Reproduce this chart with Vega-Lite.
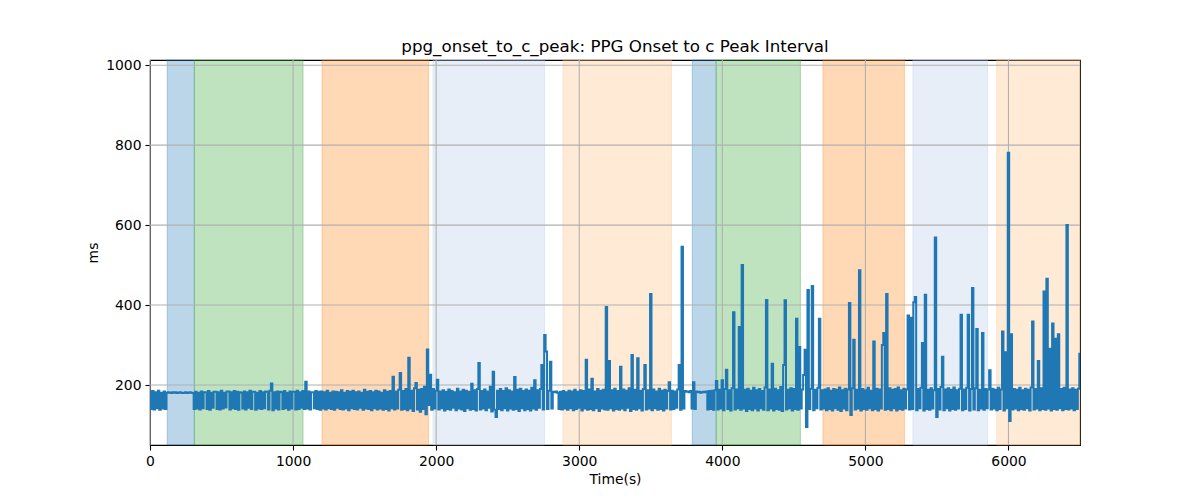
{
  "$schema": "https://vega.github.io/schema/vega-lite/v6.json",
  "width": 930,
  "height": 385,
  "autosize": {"type": "none"},
  "padding": {"left": 150, "top": 60, "right": 120, "bottom": 55},
  "background": "white",
  "title": {
    "text": "ppg_onset_to_c_peak: PPG Onset to c Peak Interval",
    "font": "DejaVu Sans",
    "fontSize": 16.7,
    "fontWeight": "normal",
    "color": "black",
    "anchor": "middle",
    "baseline": "alphabetic",
    "offset": 8,
    "dy": 19
  },
  "datasets": {
    "bands": [
      {"t": 120, "t2": 310, "kind": "s1"},
      {"t": 310, "t2": 1070, "kind": "s2"},
      {"t": 1202, "t2": 1947, "kind": "s3"},
      {"t": 1978, "t2": 2758, "kind": "s4"},
      {"t": 2886, "t2": 3645, "kind": "s5"},
      {"t": 3790, "t2": 3957, "kind": "s1"},
      {"t": 3957, "t2": 4546, "kind": "s2"},
      {"t": 4703, "t2": 5273, "kind": "s3"},
      {"t": 5332, "t2": 5854, "kind": "s4"},
      {"t": 5918, "t2": 6500, "kind": "s5"}
    ],
    "xgrid": [{"t": 0}, {"t": 1000}, {"t": 2000}, {"t": 3000}, {"t": 4000}, {"t": 5000}, {"t": 6000}],
    "ygrid": [{"v": 200}, {"v": 400}, {"v": 600}, {"v": 800}, {"v": 1000}],
    "ppg": [
      {"t":0,"v":183},{"t":10,"v":140},{"t":20,"v":185},{"t":30,"v":139},{"t":40,"v":182},{"t":50,"v":142},{"t":60,"v":186},{"t":70,"v":138},{"t":80,"v":181},{"t":90,"v":141},{"t":100,"v":184},{"t":110,"v":140},
      {"t":120,"v":181},{"t":130,"v":182},{"t":140,"v":181},{"t":150,"v":180},{"t":160,"v":182},{"t":170,"v":181},{"t":180,"v":182},{"t":190,"v":180},{"t":200,"v":181},{"t":210,"v":182},{"t":220,"v":181},{"t":230,"v":180},{"t":240,"v":181},{"t":250,"v":182},{"t":260,"v":180},{"t":270,"v":181},{"t":280,"v":182},{"t":290,"v":181},{"t":300,"v":180},
      {"t":310,"v":140},{"t":320,"v":183},{"t":330,"v":141},{"t":340,"v":181},{"t":350,"v":139},{"t":360,"v":184},{"t":370,"v":142},{"t":380,"v":182},{"t":390,"v":182},{"t":400,"v":140},
      {"t":410,"v":185},{"t":420,"v":138},{"t":430,"v":181},{"t":440,"v":143},{"t":450,"v":183},{"t":460,"v":183},{"t":470,"v":140},{"t":480,"v":182},{"t":490,"v":139},{"t":500,"v":186},
      {"t":510,"v":141},{"t":520,"v":181},{"t":530,"v":144},{"t":540,"v":184},{"t":550,"v":184},{"t":560,"v":139},{"t":570,"v":182},{"t":580,"v":142},{"t":590,"v":185},{"t":600,"v":140},
      {"t":610,"v":183},{"t":620,"v":138},{"t":630,"v":182},{"t":640,"v":181},{"t":650,"v":141},{"t":660,"v":184},{"t":670,"v":139},{"t":680,"v":182},{"t":690,"v":143},{"t":700,"v":186},
      {"t":710,"v":140},{"t":720,"v":183},{"t":730,"v":183},{"t":740,"v":138},{"t":750,"v":181},{"t":760,"v":141},{"t":770,"v":185},{"t":780,"v":140},{"t":790,"v":182},{"t":800,"v":142},
      {"t":810,"v":184},{"t":820,"v":183},{"t":830,"v":139},{"t":840,"v":186},{"t":850,"v":204},{"t":860,"v":137},{"t":870,"v":182},{"t":880,"v":141},{"t":890,"v":184},{"t":900,"v":139},
      {"t":910,"v":183},{"t":920,"v":182},{"t":930,"v":140},{"t":940,"v":185},{"t":950,"v":142},{"t":960,"v":181},{"t":970,"v":138},{"t":980,"v":184},{"t":990,"v":141},{"t":1000,"v":183},
      {"t":1010,"v":183},{"t":1020,"v":139},{"t":1030,"v":186},{"t":1040,"v":140},{"t":1050,"v":182},{"t":1060,"v":143},{"t":1070,"v":185},{"t":1080,"v":140},{"t":1090,"v":208},{"t":1100,"v":141},
      {"t":1110,"v":184},{"t":1120,"v":139},{"t":1130,"v":182},{"t":1140,"v":182},{"t":1150,"v":142},{"t":1160,"v":185},{"t":1170,"v":140},{"t":1180,"v":183},{"t":1190,"v":138},{"t":1200,"v":184},
      {"t":1210,"v":141},{"t":1220,"v":182},{"t":1230,"v":139},{"t":1240,"v":186},{"t":1250,"v":142},{"t":1260,"v":181},{"t":1270,"v":140},{"t":1280,"v":184},{"t":1290,"v":138},{"t":1300,"v":183},
      {"t":1310,"v":143},{"t":1320,"v":182},{"t":1330,"v":140},{"t":1340,"v":187},{"t":1350,"v":139},{"t":1360,"v":181},{"t":1370,"v":141},{"t":1380,"v":185},{"t":1390,"v":137},{"t":1400,"v":183},
      {"t":1410,"v":142},{"t":1420,"v":186},{"t":1430,"v":140},{"t":1440,"v":182},{"t":1450,"v":139},{"t":1460,"v":184},{"t":1470,"v":143},{"t":1480,"v":181},{"t":1490,"v":138},{"t":1500,"v":188},
      {"t":1510,"v":141},{"t":1520,"v":183},{"t":1530,"v":140},{"t":1540,"v":185},{"t":1550,"v":137},{"t":1560,"v":182},{"t":1570,"v":142},{"t":1580,"v":186},{"t":1590,"v":139},{"t":1600,"v":184},
      {"t":1610,"v":141},{"t":1620,"v":181},{"t":1630,"v":138},{"t":1640,"v":187},{"t":1650,"v":140},{"t":1660,"v":183},{"t":1670,"v":136},{"t":1680,"v":185},{"t":1690,"v":142},{"t":1700,"v":221},
      {"t":1710,"v":139},{"t":1720,"v":184},{"t":1730,"v":141},{"t":1740,"v":188},{"t":1750,"v":230},{"t":1760,"v":138},{"t":1770,"v":185},{"t":1780,"v":140},{"t":1790,"v":190},{"t":1800,"v":137},
      {"t":1810,"v":268},{"t":1820,"v":141},{"t":1830,"v":186},{"t":1840,"v":135},{"t":1850,"v":192},{"t":1860,"v":205},{"t":1870,"v":139},{"t":1880,"v":188},{"t":1890,"v":133},{"t":1900,"v":190},
      {"t":1910,"v":140},{"t":1920,"v":196},{"t":1930,"v":127},{"t":1940,"v":289},{"t":1950,"v":150},{"t":1960,"v":226},{"t":1970,"v":138},{"t":1980,"v":190},{"t":1990,"v":141},{"t":2000,"v":186},
      {"t":2010,"v":213},{"t":2020,"v":139},{"t":2030,"v":184},{"t":2040,"v":142},{"t":2050,"v":187},{"t":2060,"v":136},{"t":2070,"v":183},{"t":2080,"v":140},{"t":2090,"v":189},{"t":2100,"v":138},
      {"t":2110,"v":185},{"t":2120,"v":143},{"t":2130,"v":182},{"t":2140,"v":137},{"t":2150,"v":191},{"t":2160,"v":141},{"t":2170,"v":184},{"t":2180,"v":139},{"t":2190,"v":188},{"t":2200,"v":135},
      {"t":2210,"v":186},{"t":2220,"v":142},{"t":2230,"v":183},{"t":2240,"v":138},{"t":2250,"v":203},{"t":2260,"v":140},{"t":2270,"v":187},{"t":2280,"v":136},{"t":2290,"v":190},{"t":2300,"v":255},
      {"t":2310,"v":139},{"t":2320,"v":185},{"t":2330,"v":141},{"t":2340,"v":189},{"t":2350,"v":137},{"t":2360,"v":184},{"t":2370,"v":143},{"t":2380,"v":196},{"t":2390,"v":134},{"t":2400,"v":233},
      {"t":2410,"v":138},{"t":2420,"v":120},{"t":2430,"v":186},{"t":2440,"v":140},{"t":2450,"v":190},{"t":2460,"v":137},{"t":2470,"v":185},{"t":2480,"v":142},{"t":2490,"v":192},{"t":2500,"v":136},
      {"t":2510,"v":187},{"t":2520,"v":141},{"t":2530,"v":184},{"t":2540,"v":138},{"t":2550,"v":220},{"t":2560,"v":140},{"t":2570,"v":188},{"t":2580,"v":135},{"t":2590,"v":191},{"t":2600,"v":142},
      {"t":2610,"v":185},{"t":2620,"v":137},{"t":2630,"v":189},{"t":2640,"v":140},{"t":2650,"v":186},{"t":2660,"v":136},{"t":2670,"v":193},{"t":2680,"v":141},{"t":2690,"v":212},{"t":2700,"v":138},
      {"t":2710,"v":187},{"t":2720,"v":143},{"t":2730,"v":190},{"t":2740,"v":250},{"t":2750,"v":139},{"t":2760,"v":325},{"t":2770,"v":284},{"t":2780,"v":140},{"t":2790,"v":186},{"t":2800,"v":258},
      {"t":2810,"v":141},{"t":2820,"v":183},{"t":2830,"v":182},{"t":2840,"v":184},{"t":2850,"v":181},{"t":2860,"v":140},{"t":2870,"v":183},{"t":2880,"v":139},{"t":2890,"v":185},{"t":2900,"v":141},
      {"t":2910,"v":182},{"t":2920,"v":138},{"t":2930,"v":186},{"t":2940,"v":142},{"t":2950,"v":184},{"t":2960,"v":137},{"t":2970,"v":188},{"t":2980,"v":140},{"t":2990,"v":183},{"t":3000,"v":143},
      {"t":3010,"v":187},{"t":3020,"v":136},{"t":3030,"v":185},{"t":3040,"v":141},{"t":3050,"v":263},{"t":3060,"v":138},{"t":3070,"v":189},{"t":3080,"v":140},{"t":3090,"v":216},{"t":3100,"v":137},
      {"t":3110,"v":184},{"t":3120,"v":142},{"t":3130,"v":190},{"t":3140,"v":135},{"t":3150,"v":186},{"t":3160,"v":141},{"t":3170,"v":188},{"t":3180,"v":139},{"t":3190,"v":395},{"t":3200,"v":138},
      {"t":3210,"v":260},{"t":3220,"v":142},{"t":3230,"v":187},{"t":3240,"v":136},{"t":3250,"v":191},{"t":3260,"v":140},{"t":3270,"v":185},{"t":3280,"v":138},{"t":3290,"v":246},{"t":3300,"v":141},
      {"t":3310,"v":189},{"t":3320,"v":137},{"t":3330,"v":186},{"t":3340,"v":143},{"t":3350,"v":192},{"t":3360,"v":135},{"t":3370,"v":275},{"t":3380,"v":140},{"t":3390,"v":188},{"t":3400,"v":138},
      {"t":3410,"v":267},{"t":3420,"v":142},{"t":3430,"v":186},{"t":3440,"v":136},{"t":3450,"v":190},{"t":3460,"v":250},{"t":3470,"v":139},{"t":3480,"v":187},{"t":3490,"v":141},{"t":3500,"v":428},
      {"t":3510,"v":137},{"t":3520,"v":189},{"t":3530,"v":142},{"t":3540,"v":184},{"t":3550,"v":138},{"t":3560,"v":191},{"t":3570,"v":140},{"t":3580,"v":186},{"t":3590,"v":136},{"t":3600,"v":188},
      {"t":3610,"v":141},{"t":3620,"v":185},{"t":3630,"v":207},{"t":3640,"v":139},{"t":3650,"v":186},{"t":3660,"v":140},{"t":3670,"v":184},{"t":3680,"v":143},{"t":3690,"v":189},{"t":3700,"v":250},
      {"t":3710,"v":138},{"t":3720,"v":546},{"t":3730,"v":141},{"t":3740,"v":185},{"t":3750,"v":183},{"t":3760,"v":184},{"t":3770,"v":182},{"t":3780,"v":185},{"t":3790,"v":141},{"t":3800,"v":207},
      {"t":3810,"v":140},{"t":3820,"v":184},{"t":3830,"v":182},{"t":3840,"v":183},{"t":3850,"v":181},{"t":3860,"v":182},{"t":3870,"v":183},{"t":3880,"v":182},{"t":3890,"v":184},{"t":3900,"v":139},
      {"t":3910,"v":185},{"t":3920,"v":140},{"t":3930,"v":186},{"t":3940,"v":138},{"t":3950,"v":187},{"t":3960,"v":210},{"t":3970,"v":139},{"t":3980,"v":188},{"t":3990,"v":141},{"t":4000,"v":212},
      {"t":4010,"v":137},{"t":4020,"v":190},{"t":4030,"v":238},{"t":4040,"v":140},{"t":4050,"v":187},{"t":4060,"v":136},{"t":4070,"v":192},{"t":4080,"v":382},{"t":4090,"v":139},{"t":4100,"v":189},
      {"t":4110,"v":142},{"t":4120,"v":345},{"t":4130,"v":138},{"t":4140,"v":500},{"t":4150,"v":141},{"t":4160,"v":188},{"t":4170,"v":135},{"t":4180,"v":191},{"t":4190,"v":140},{"t":4200,"v":186},
      {"t":4210,"v":137},{"t":4220,"v":193},{"t":4230,"v":141},{"t":4240,"v":187},{"t":4250,"v":136},{"t":4260,"v":190},{"t":4270,"v":142},{"t":4280,"v":185},{"t":4290,"v":138},{"t":4300,"v":194},
      {"t":4310,"v":413},{"t":4320,"v":137},{"t":4330,"v":189},{"t":4340,"v":141},{"t":4350,"v":253},{"t":4360,"v":136},{"t":4370,"v":191},{"t":4380,"v":140},{"t":4390,"v":187},{"t":4400,"v":138},
      {"t":4410,"v":195},{"t":4420,"v":135},{"t":4430,"v":250},{"t":4440,"v":412},{"t":4450,"v":139},{"t":4460,"v":188},{"t":4470,"v":142},{"t":4480,"v":192},{"t":4490,"v":136},{"t":4500,"v":190},
      {"t":4510,"v":140},{"t":4520,"v":366},{"t":4530,"v":138},{"t":4540,"v":295},{"t":4550,"v":141},{"t":4560,"v":189},{"t":4570,"v":225},{"t":4580,"v":288},{"t":4590,"v":95},{"t":4600,"v":438},
      {"t":4610,"v":140},{"t":4620,"v":191},{"t":4630,"v":448},{"t":4640,"v":137},{"t":4650,"v":188},{"t":4660,"v":142},{"t":4670,"v":193},{"t":4680,"v":366},{"t":4690,"v":139},{"t":4700,"v":187},
      {"t":4710,"v":141},{"t":4720,"v":189},{"t":4730,"v":137},{"t":4740,"v":192},{"t":4750,"v":140},{"t":4760,"v":186},{"t":4770,"v":136},{"t":4780,"v":190},{"t":4790,"v":142},{"t":4800,"v":188},
      {"t":4810,"v":138},{"t":4820,"v":194},{"t":4830,"v":135},{"t":4840,"v":187},{"t":4850,"v":141},{"t":4860,"v":191},{"t":4870,"v":137},{"t":4880,"v":189},{"t":4890,"v":405},{"t":4900,"v":125},
      {"t":4910,"v":192},{"t":4920,"v":313},{"t":4930,"v":139},{"t":4940,"v":188},{"t":4950,"v":141},{"t":4960,"v":487},{"t":4970,"v":136},{"t":4980,"v":190},{"t":4990,"v":140},{"t":5000,"v":187},
      {"t":5010,"v":138},{"t":5020,"v":193},{"t":5030,"v":142},{"t":5040,"v":186},{"t":5050,"v":137},{"t":5060,"v":309},{"t":5070,"v":140},{"t":5080,"v":191},{"t":5090,"v":136},{"t":5100,"v":189},
      {"t":5110,"v":141},{"t":5120,"v":300},{"t":5130,"v":330},{"t":5140,"v":138},{"t":5150,"v":428},{"t":5160,"v":140},{"t":5170,"v":192},{"t":5180,"v":137},{"t":5190,"v":188},{"t":5200,"v":142},
      {"t":5210,"v":190},{"t":5220,"v":136},{"t":5230,"v":194},{"t":5240,"v":140},{"t":5250,"v":187},{"t":5260,"v":138},{"t":5270,"v":191},{"t":5280,"v":141},{"t":5290,"v":189},{"t":5300,"v":374},
      {"t":5310,"v":139},{"t":5320,"v":368},{"t":5330,"v":140},{"t":5340,"v":407},{"t":5350,"v":420},{"t":5360,"v":137},{"t":5370,"v":190},{"t":5380,"v":142},{"t":5390,"v":193},{"t":5400,"v":305},
      {"t":5410,"v":136},{"t":5420,"v":426},{"t":5430,"v":140},{"t":5440,"v":188},{"t":5450,"v":138},{"t":5460,"v":192},{"t":5470,"v":141},{"t":5480,"v":187},{"t":5490,"v":569},{"t":5500,"v":120},
      {"t":5510,"v":190},{"t":5520,"v":139},{"t":5530,"v":195},{"t":5540,"v":271},{"t":5550,"v":137},{"t":5560,"v":189},{"t":5570,"v":142},{"t":5580,"v":192},{"t":5590,"v":136},{"t":5600,"v":188},
      {"t":5610,"v":140},{"t":5620,"v":194},{"t":5630,"v":138},{"t":5640,"v":187},{"t":5650,"v":141},{"t":5660,"v":191},{"t":5670,"v":376},{"t":5680,"v":137},{"t":5690,"v":189},{"t":5700,"v":140},
      {"t":5710,"v":193},{"t":5720,"v":376},{"t":5730,"v":136},{"t":5740,"v":190},{"t":5750,"v":443},{"t":5760,"v":139},{"t":5770,"v":192},{"t":5780,"v":340},{"t":5790,"v":137},{"t":5800,"v":188},
      {"t":5810,"v":141},{"t":5820,"v":330},{"t":5830,"v":138},{"t":5840,"v":190},{"t":5850,"v":142},{"t":5860,"v":189},{"t":5870,"v":237},{"t":5880,"v":139},{"t":5890,"v":191},{"t":5900,"v":141},
      {"t":5910,"v":188},{"t":5920,"v":137},{"t":5930,"v":193},{"t":5940,"v":140},{"t":5950,"v":189},{"t":5960,"v":334},{"t":5970,"v":136},{"t":5980,"v":282},{"t":5990,"v":142},{"t":6000,"v":781},
      {"t":6010,"v":110},{"t":6020,"v":327},{"t":6030,"v":139},{"t":6040,"v":190},{"t":6050,"v":141},{"t":6060,"v":188},{"t":6070,"v":137},{"t":6080,"v":193},{"t":6090,"v":140},{"t":6100,"v":187},
      {"t":6110,"v":138},{"t":6120,"v":191},{"t":6130,"v":142},{"t":6140,"v":188},{"t":6150,"v":136},{"t":6160,"v":194},{"t":6170,"v":359},{"t":6180,"v":139},{"t":6190,"v":190},{"t":6200,"v":141},
      {"t":6210,"v":260},{"t":6220,"v":137},{"t":6230,"v":192},{"t":6240,"v":140},{"t":6250,"v":434},{"t":6260,"v":138},{"t":6270,"v":466},{"t":6280,"v":141},{"t":6290,"v":291},{"t":6300,"v":136},
      {"t":6310,"v":354},{"t":6320,"v":140},{"t":6330,"v":316},{"t":6340,"v":138},{"t":6350,"v":327},{"t":6360,"v":142},{"t":6370,"v":190},{"t":6380,"v":137},{"t":6390,"v":193},{"t":6400,"v":140},
      {"t":6410,"v":600},{"t":6420,"v":139},{"t":6430,"v":189},{"t":6440,"v":141},{"t":6450,"v":192},{"t":6460,"v":137},{"t":6470,"v":188},{"t":6480,"v":140},{"t":6490,"v":191},{"t":6500,"v":278}
    ]
  },
  "layer": [
    {
      "data": {"name": "bands"},
      "mark": {"type": "rect", "fillOpacity": 0.3, "strokeOpacity": 0.3, "strokeWidth": 1},
      "encoding": {
        "x": {"field": "t", "type": "quantitative", "scale": {"domain": [0, 6500], "nice": false, "zero": false},
              "axis": {"title": "Time(s)", "values": [0, 1000, 2000, 3000, 4000, 5000, 6000], "format": "d"}},
        "x2": {"field": "t2"},
        "color": {"field": "kind", "type": "nominal", "legend": null,
                  "scale": {"domain": ["s1", "s2", "s3", "s4", "s5"], "range": ["#1f77b4", "#2ca02c", "#ff7f0e", "#aec7e8", "#ffbb78"]}},
        "stroke": {"field": "kind", "type": "nominal", "legend": null,
                   "scale": {"domain": ["s1", "s2", "s3", "s4", "s5"], "range": ["#1f77b4", "#2ca02c", "#ff7f0e", "#aec7e8", "#ffbb78"]}}
      }
    },
    {
      "data": {"name": "xgrid"},
      "mark": {"type": "rule", "color": "#b0b0b0", "strokeWidth": 1.1},
      "encoding": {
        "x": {"field": "t", "type": "quantitative", "scale": {"domain": [0, 6500], "nice": false, "zero": false},
              "axis": {"title": "Time(s)", "values": [0, 1000, 2000, 3000, 4000, 5000, 6000], "format": "d"}}
      }
    },
    {
      "data": {"name": "ygrid"},
      "mark": {"type": "rule", "color": "#b0b0b0", "strokeWidth": 1.1},
      "encoding": {
        "y": {"field": "v", "type": "quantitative", "scale": {"domain": [50, 1013], "nice": false, "zero": false},
              "axis": {"title": "ms", "values": [200, 400, 600, 800, 1000], "format": "d"}}
      }
    },
    {
      "data": {"name": "ppg"},
      "mark": {"type": "line", "color": "#1f77b4", "strokeWidth": 2, "clip": true, "interpolate": "step"},
      "encoding": {
        "x": {"field": "t", "type": "quantitative", "scale": {"domain": [0, 6500], "nice": false, "zero": false},
              "axis": {"title": "Time(s)", "values": [0, 1000, 2000, 3000, 4000, 5000, 6000], "format": "d"}},
        "y": {"field": "v", "type": "quantitative", "scale": {"domain": [50, 1013], "nice": false, "zero": false},
              "axis": {"title": "ms", "values": [200, 400, 600, 800, 1000], "format": "d"}}
      }
    }
  ],
  "config": {
    "view": {"stroke": "black", "strokeWidth": 1.1},
    "axis": {
      "grid": false,
      "domain": false,
      "labelFlush": false,
      "tickColor": "black",
      "tickSize": 5,
      "tickWidth": 1.1,
      "labelPadding": 4,
      "labelFont": "DejaVu Sans",
      "labelFontSize": 13.9,
      "labelColor": "black",
      "titleFont": "DejaVu Sans",
      "titleFontSize": 13.9,
      "titleFontWeight": "normal",
      "titleColor": "black",
      "titlePadding": 5
    }
  }
}
